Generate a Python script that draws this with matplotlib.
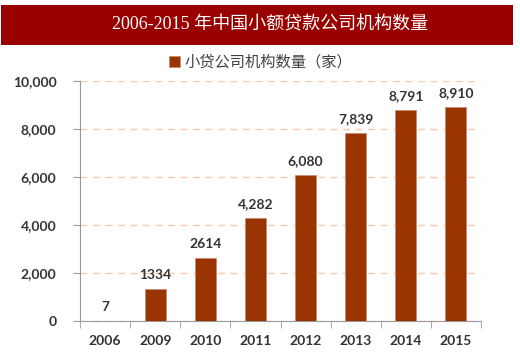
import matplotlib.pyplot as plt
from matplotlib.patches import Rectangle

years = ['2006', '2009', '2010', '2011', '2012', '2013', '2014', '2015']
counts = [7, 1334, 2614, 4282, 6080, 7839, 8791, 8910]
labels = ['7', '1334', '2614', '4,282', '6,080', '7,839', '8,791', '8,910']

plt.rcParams['font.family'] = ['Lato', 'Noto Sans CJK SC']

fig = plt.figure(figsize=(5.2, 3.54), dpi=100)
fig.patch.set_facecolor('white')

# title banner
fig.patches.append(Rectangle((0.002, 0.873), 0.985, 0.113, transform=fig.transFigure,
                             facecolor='#990000', edgecolor='none'))
fig.text(0.52, 0.93, '2006-2015 年中国小额贷款公司机构数量', color='white', fontsize=13,
         ha='center', va='center', family=['Liberation Serif', 'Noto Sans CJK SC'])

ax = fig.add_axes([0.154, 0.093, 0.771, 0.678])
x = list(range(len(years)))
bars = ax.bar(x, counts, width=0.42, color='#993300', edgecolor='#c98a6e', linewidth=0.5,
              label='小贷公司机构数量（家）', zorder=3)

for xi, v, t in zip(x, counts, labels):
    ax.text(xi, v + 330, t, ha='center', va='bottom', fontsize=10, fontweight='bold', color='#333333')

ax.set_xlim(-0.5, len(years) - 0.5)
ax.set_ylim(0, 10000)
ax.set_yticks(range(0, 10001, 2000))
ax.set_yticklabels(['0', '2,000', '4,000', '6,000', '8,000', '10,000'])
ax.set_xticks(x)
ax.set_xticklabels(years)
ax.set_xticks([i - 0.5 for i in range(len(years) + 1)], minor=True)
ax.tick_params(axis='x', which='major', length=0, pad=10, labelsize=10, labelcolor='#333333')
ax.tick_params(axis='x', which='minor', length=5, color='#999999', direction='out')
ax.tick_params(axis='y', length=5, color='#999999', labelsize=10, labelcolor='#333333', pad=12)
for lab in ax.get_xticklabels() + ax.get_yticklabels():
    lab.set_fontweight('bold')

ax.yaxis.grid(True, linestyle=(0, (5, 4)), color='#f8cbad', linewidth=1, zorder=0)
ax.spines['top'].set_visible(False)
ax.spines['right'].set_visible(False)
ax.spines['left'].set_color('#999999')
ax.spines['bottom'].set_color('#999999')

ax.legend(loc='lower center', bbox_to_anchor=(0.45, 0.99), frameon=False, fontsize=11,
          handlelength=0.7, handleheight=0.7, handletextpad=0.3, labelcolor='#404040')

fig.savefig('out.png', dpi=100)
